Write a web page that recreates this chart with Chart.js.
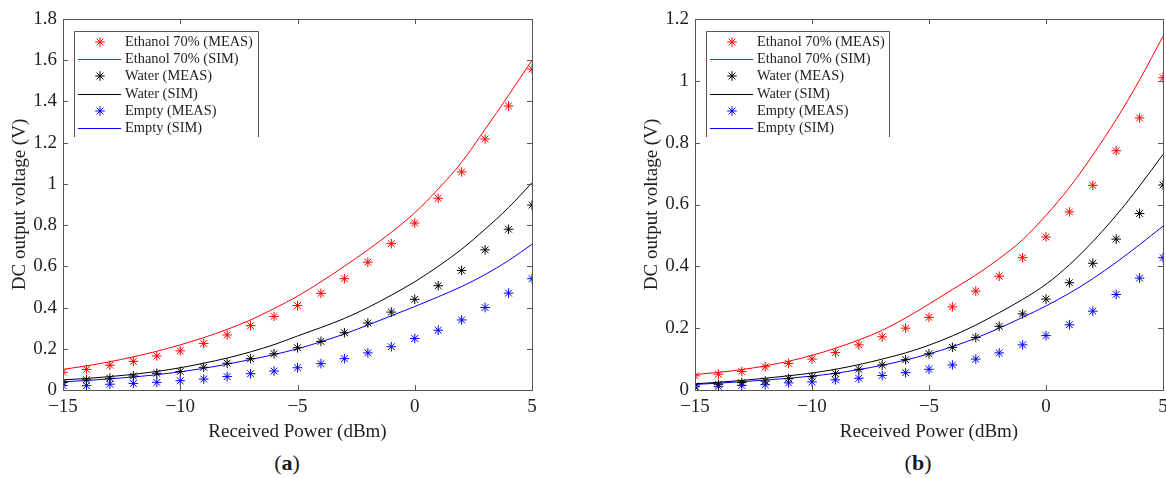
<!DOCTYPE html>
<html>
<head>
<meta charset="utf-8">
<script src="https://cdn.jsdelivr.net/npm/chart.js@4.4.1/dist/chart.umd.min.js"></script>
<style>
  body { margin: 0; background: #fff; width: 1166px; height: 478px; position: relative; overflow: hidden; }
  .panel { position: absolute; top: 0; height: 448px; }
  .cap { position: absolute; top: 451px; width: 100px; text-align: center; line-height: 24px;
         font-family: "Liberation Serif", "Times New Roman", serif; font-size: 22px; color: #1a1a1a; }
</style>
</head>
<body>
<div class="panel" style="left:0;width:583px"><canvas id="chartA"></canvas></div>
<div class="panel" style="left:583px;width:600px"><canvas id="chartB"></canvas></div>
<div class="cap" style="left:237px">(<b>a</b>)</div>
<div class="cap" style="left:868px">(<b>b</b>)</div>

<script>
// du lieu doc tu hinh
const powerDbm = [-15, -14, -13, -12, -11, -10, -9, -8, -7, -6, -5, -4, -3, -2, -1, 0, 1, 2, 3, 4, 5];
const xTicks = [-15, -10, -5, 0, 5];
const legendLabels = ["Ethanol 70% (MEAS)", "Ethanol 70% (SIM)", "Water (MEAS)", "Water (SIM)", "Empty (MEAS)", "Empty (SIM)"];

// (a)
const ethanolMeasA = [0.086, 0.10, 0.12, 0.139, 0.165, 0.19, 0.226, 0.267, 0.312, 0.357, 0.41, 0.469, 0.54, 0.62, 0.71, 0.81, 0.93, 1.058, 1.218, 1.378, 1.557];
const ethanolSimA  = [0.10, 0.117, 0.137, 0.161, 0.188, 0.219, 0.254, 0.294, 0.34, 0.395, 0.455, 0.525, 0.60, 0.68, 0.765, 0.86, 0.975, 1.105, 1.265, 1.43, 1.60];
const waterMeasA   = [0.036, 0.049, 0.057, 0.068, 0.081, 0.09, 0.11, 0.13, 0.152, 0.176, 0.205, 0.236, 0.278, 0.325, 0.378, 0.44, 0.506, 0.58, 0.68, 0.78, 0.897];
const waterSimA    = [0.049, 0.056, 0.065, 0.076, 0.09, 0.108, 0.13, 0.155, 0.185, 0.22, 0.262, 0.303, 0.347, 0.40, 0.46, 0.525, 0.60, 0.683, 0.78, 0.885, 1.006];
const emptyMeasA   = [0.021, 0.021, 0.028, 0.032, 0.037, 0.045, 0.053, 0.065, 0.079, 0.092, 0.108, 0.128, 0.152, 0.18, 0.21, 0.25, 0.29, 0.34, 0.40, 0.47, 0.54];
const emptySimA    = [0.04, 0.046, 0.054, 0.063, 0.074, 0.088, 0.105, 0.125, 0.148, 0.172, 0.20, 0.234, 0.272, 0.315, 0.36, 0.405, 0.452, 0.502, 0.56, 0.628, 0.707];
const yTicksA = [0, 0.2, 0.4, 0.6, 0.8, 1, 1.2, 1.4, 1.6, 1.8];

// (b)
const ethanolMeasB = [0.046, 0.051, 0.06, 0.075, 0.086, 0.10, 0.121, 0.146, 0.172, 0.20, 0.235, 0.269, 0.32, 0.368, 0.428, 0.495, 0.576, 0.662, 0.774, 0.88, 1.01];
const ethanolSimB  = [0.05, 0.057, 0.066, 0.078, 0.093, 0.112, 0.135, 0.162, 0.193, 0.233, 0.278, 0.325, 0.372, 0.425, 0.486, 0.565, 0.655, 0.76, 0.875, 1.003, 1.144];
const waterMeasB   = [0.013, 0.0185, 0.024, 0.029, 0.037, 0.043, 0.053, 0.067, 0.081, 0.098, 0.117, 0.138, 0.17, 0.206, 0.246, 0.294, 0.347, 0.41, 0.488, 0.571, 0.663];
const waterSimB    = [0.02, 0.025, 0.031, 0.038, 0.046, 0.055, 0.067, 0.082, 0.10, 0.12, 0.145, 0.175, 0.21, 0.25, 0.293, 0.342, 0.405, 0.48, 0.565, 0.66, 0.762];
const emptyMeasB   = [0.01, 0.012, 0.015, 0.017, 0.023, 0.026, 0.033, 0.038, 0.047, 0.056, 0.067, 0.081, 0.10, 0.12, 0.146, 0.176, 0.211, 0.255, 0.309, 0.362, 0.428];
const emptySimB    = [0.018, 0.022, 0.027, 0.032, 0.038, 0.045, 0.054, 0.066, 0.08, 0.097, 0.117, 0.14, 0.168, 0.20, 0.235, 0.272, 0.313, 0.36, 0.413, 0.47, 0.53];
const yTicksB = [0, 0.2, 0.4, 0.6, 0.8, 1, 1.2];

const serif = "'Liberation Serif', 'Times New Roman', serif";
const textColor = "#1f1f1f";
const axisColor = "#555";
const RED = "#ff0000", BLACK = "#000000", BLUE = "#0000ff";
const seriesColors = [RED, RED, BLACK, BLACK, BLUE, BLUE];

// khung truc + vach chia huong vao trong (kieu MATLAB)
const framePlugin = {
  id: "frame",
  afterDraw(chart) {
    const a = chart.chartArea, ctx = chart.ctx;
    const sx = chart.scales.x, sy = chart.scales.y;
    ctx.save();
    ctx.strokeStyle = axisColor;
    ctx.lineWidth = 1;
    ctx.strokeRect(Math.round(a.left) + 0.5, Math.round(a.top) + 0.5, Math.round(a.width), Math.round(a.height));
    ctx.beginPath();
    sx.ticks.forEach(t => {
      const px = Math.round(sx.getPixelForValue(t.value)) + 0.5;
      ctx.moveTo(px, a.bottom); ctx.lineTo(px, a.bottom - 5);
      ctx.moveTo(px, a.top); ctx.lineTo(px, a.top + 5);
    });
    sy.ticks.forEach(t => {
      const py = Math.round(sy.getPixelForValue(t.value)) + 0.5;
      ctx.moveTo(a.left, py); ctx.lineTo(a.left + 5, py);
      ctx.moveTo(a.right, py); ctx.lineTo(a.right - 5, py);
    });
    ctx.stroke();
    ctx.restore();
  }
};

// chu thich trong vung ve
const legendPlugin = {
  id: "boxLegend",
  afterDraw(chart, args, opts) {
    const a = chart.chartArea, ctx = chart.ctx;
    const x0 = Math.round(a.left) + 11, y0 = Math.round(a.top) + 12;
    const w = opts.width, h = 106;
    ctx.save();
    ctx.fillStyle = "#fff";
    ctx.fillRect(x0, y0, w, h);
    ctx.strokeStyle = axisColor;
    ctx.lineWidth = 1;
    ctx.beginPath();
    ctx.moveTo(x0 + 0.5, y0 + h);
    ctx.lineTo(x0 + 0.5, y0 + 0.5);
    ctx.lineTo(x0 + w + 0.5, y0 + 0.5);
    ctx.lineTo(x0 + w + 0.5, y0 + h);
    ctx.stroke();
    ctx.restore();

    legendLabels.forEach((label, i) => {
      const y = Math.round(y0 + 11 + i * 17.2);
      const col = seriesColors[i];
      ctx.save();
      if (i % 2 === 0) {
        ctx.strokeStyle = col;
        ctx.lineWidth = 1;
        Chart.helpers.drawPoint(ctx, { pointStyle: "star", radius: 4.8, rotation: 0, borderWidth: 1 }, x0 + 26, y);
      } else {
        ctx.fillStyle = col;
        ctx.fillRect(x0 + 4, y, 43, 1);
      }
      ctx.restore();
      ctx.save();
      ctx.font = "14.4px " + serif;
      ctx.textBaseline = "middle";
      ctx.textAlign = "left";
      ctx.fillStyle = textColor;
      ctx.fillText(label, x0 + 51, y);
      ctx.restore();
    });
  }
};

function pts(ys) {
  return powerDbm.map((x, i) => ({ x: x, y: ys[i] }));
}

function meas(label, color, ys) {
  return {
    label: label, data: pts(ys), showLine: false,
    pointStyle: "star", pointRadius: 4.8, pointBorderWidth: 1,
    borderColor: color, backgroundColor: color, pointBorderColor: color
  };
}

function sim(label, color, ys) {
  return {
    label: label, data: pts(ys), showLine: true, pointRadius: 0,
    borderColor: color, borderWidth: 1, cubicInterpolationMode: "monotone", fill: false
  };
}

function makeChart(id, series, yTicks, pad, legendWidth) {
  const yMax = yTicks[yTicks.length - 1];
  return new Chart(document.getElementById(id), {
    type: "line",
    data: {
      datasets: series.map((ys, i) => (i % 2 === 0 ? meas : sim)(legendLabels[i], seriesColors[i], ys))
    },
    options: {
      responsive: true,
      maintainAspectRatio: false,
      animation: false,
      layout: { padding: pad },
      scales: {
        x: {
          type: "linear", min: -15, max: 5,
          afterBuildTicks: s => { s.ticks = xTicks.map(v => ({ value: v })); },
          afterFit: s => { s.height = 448 - 390; },
          grid: { display: false, drawTicks: false },
          border: { display: false },
          ticks: {
            padding: 6, maxRotation: 0, autoSkip: false, color: textColor,
            font: { family: serif, size: 19 },
            callback: v => (v < 0 ? "\u2212" + Math.abs(v) : String(v))
          },
          title: {
            display: true, text: "Received Power (dBm)", color: textColor,
            font: { family: serif, size: 19 }, padding: { top: 2, bottom: 5 }
          }
        },
        y: {
          min: 0, max: yMax,
          afterBuildTicks: s => { s.ticks = yTicks.map(v => ({ value: v })); },
          afterFit: s => { s.width = 63; },
          grid: { display: false, drawTicks: false },
          border: { display: false },
          ticks: {
            padding: 6, color: textColor,
            font: { family: serif, size: 19 },
            callback: v => String(Math.round(v * 10) / 10)
          },
          title: {
            display: true, text: "DC output voltage (V)", color: textColor,
            font: { family: serif, size: 19 }, padding: { top: 9, bottom: 2 }
          }
        }
      },
      plugins: {
        legend: { display: false },
        tooltip: { enabled: false },
        boxLegend: { width: legendWidth }
      }
    },
    plugins: [framePlugin, legendPlugin]
  });
}

makeChart("chartA",
  [ethanolMeasA, ethanolSimA, waterMeasA, waterSimA, emptyMeasA, emptySimA],
  yTicksA, { left: 0, right: 51, top: 19, bottom: 0 }, 184);

makeChart("chartB",
  [ethanolMeasB, ethanolSimB, waterMeasB, waterSimB, emptyMeasB, emptySimB],
  yTicksB, { left: 49, right: 20, top: 19, bottom: 0 }, 183);
</script>
</body>
</html>
